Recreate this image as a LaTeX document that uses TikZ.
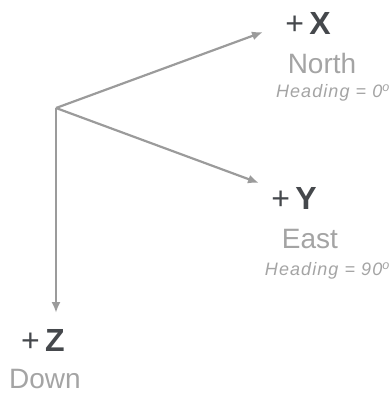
\documentclass[tikz,border=0pt]{standalone}
\usepackage{fontspec}
\setmainfont{Liberation Sans}
\newfontfamily\headfont[LetterSpace=6]{Liberation Sans}
\usetikzlibrary{positioning,arrows.meta}
\definecolor{axisgray}{HTML}{9B9B9B}
\definecolor{labeldark}{HTML}{45484C}
\definecolor{labelgray}{HTML}{A4A4A4}
\tikzset{
  axis/.style={draw=axisgray,line width=2.2pt,-{Latex[length=11pt,width=9pt]}},
  axname/.style={text=labeldark,font=\fontsize{32}{34}\selectfont,inner sep=0pt},
  dirname/.style={text=labelgray,font=\fontsize{28}{30}\selectfont,inner sep=0pt},
  headname/.style={text=labelgray,font=\headfont\itshape\fontsize{18}{20}\selectfont,inner sep=0pt},
}
\begin{document}
\begin{tikzpicture}[x=1pt,y=-1pt]
  \useasboundingbox (0,0) rectangle (390,396);
  % axes from the common origin
  \coordinate (o) at (56,108);
  \coordinate (xtip) at (263,32);
  \coordinate (ytip) at (259,183);
  \coordinate (ztip) at (56,313);
  \draw[axis] (o) -- (xtip);
  \draw[axis] (o) -- (ytip);
  \draw[axis] (o) -- (ztip);
  % labels
  \node[axname] (xlab) at (308,23) {+\,\textbf{X}};
  \node[dirname] (north) at (322,63) {North};
  \node[headname,anchor=east] (xhead) at (390,93) {Heading = 0\textsuperscript{o}};
  \node[axname] (ylab) at (294,198) {+\,\textbf{Y}};
  \node[dirname] (east) at (310,239) {East};
  \node[headname,anchor=east] (yhead) at (390,271) {Heading = 90\textsuperscript{o}};
  \node[axname] (zlab) at (43,340) {+\,\textbf{Z}};
  \node[dirname] (down) at (45,379) {Down};
\end{tikzpicture}
\end{document}
